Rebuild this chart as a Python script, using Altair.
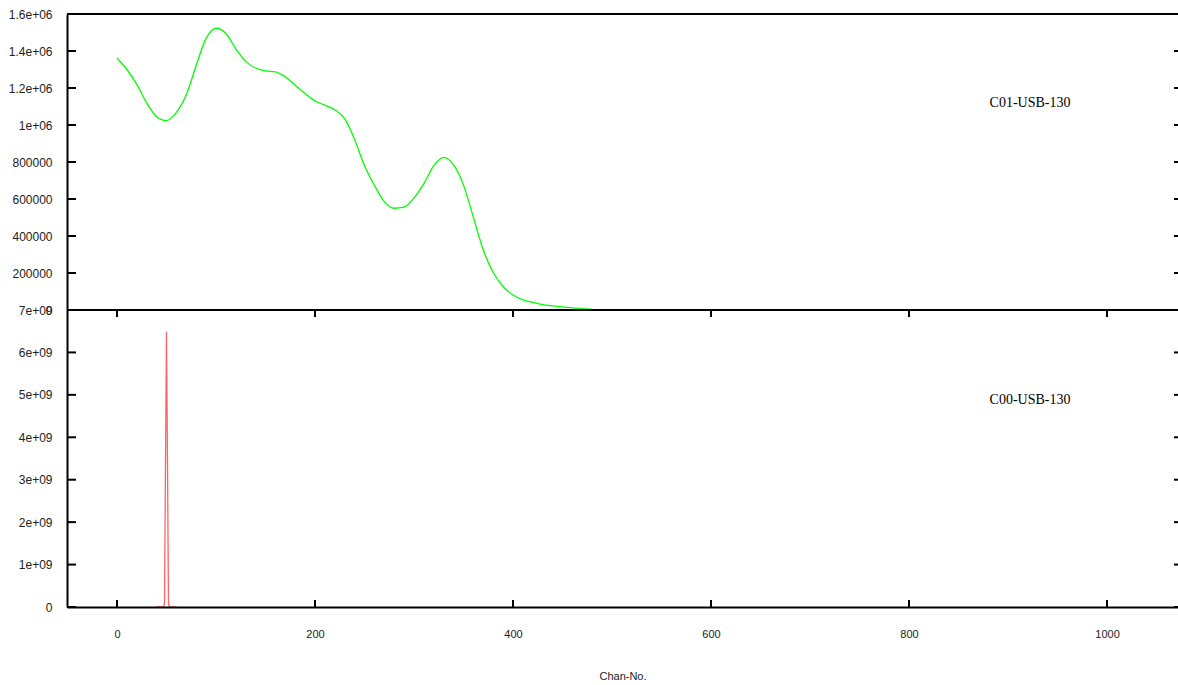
import altair as alt
import pandas as pd

# ---- data ----
chan_c01 = list(range(0, 481, 10))
counts_c01 = [1362000, 1300000, 1220000, 1119000, 1045000, 1024000, 1068000, 1163000, 1322000, 1468000,
              1523000, 1495000, 1412000, 1344000, 1308000, 1293000, 1287000, 1260000, 1215000, 1170000,
              1130000, 1107000, 1082000, 1034000, 922000, 780000, 674000, 586000, 550000, 556000,
              606000, 683000, 780000, 825000, 784000, 675000, 500000, 324000, 203000, 127000,
              81000, 55000, 41000, 29000, 22000, 17000, 12000, 7000, 4000]

chan_c00 = list(range(40, 61))
counts_c00 = [0, 0, 0, 0, 0, 0, 0, 0, 9.0e7, 3.43e9, 6.48e9, 3.43e9, 9.0e7,
              0, 0, 0, 0, 0, 0, 0, 0]

key_top = "C01-USB-130"
key_bottom = "C00-USB-130"

x_ticks = [0, 200, 400, 600, 800, 1000]
y_ticks_top = [0, 200000, 400000, 600000, 800000, 1000000, 1200000, 1400000, 1600000]
y_ticks_bottom = [0, 1e9, 2e9, 3e9, 4e9, 5e9, 6e9, 7e9]

# ---- layout ----
W, H = 1111, 593
TOP_H = 296
LBL_FONT = "Liberation Sans"
LBL_COLOR = "#222222"

df_top = pd.DataFrame({"chan": chan_c01, "counts": counts_c01})
df_bot = pd.DataFrame({"chan": chan_c00, "counts": counts_c00})
df_xt = pd.DataFrame({"chan": x_ticks})
df_yt_top = pd.DataFrame({"v": y_ticks_top})
df_yt_bot = pd.DataFrame({"v": y_ticks_bottom})
one = pd.DataFrame({"k": [0]})

x_scale = alt.Scale(domain=[-50.5, 1071.7], nice=False, zero=False)
x_axis = alt.Axis(values=x_ticks, title="Chan-No.", ticks=False, labelPadding=21,
                  titlePadding=31, domainColor="black", domainWidth=2, grid=False,
                  zindex=1, labelFont=LBL_FONT, labelFontSize=11, labelColor=LBL_COLOR,
                  titleFont=LBL_FONT, titleFontSize=11, titleFontWeight="normal",
                  titleColor=LBL_COLOR, labelFlush=False, format="d")

y_scale_top = alt.Scale(domain=[0, 1.6e6], range=[TOP_H, 0], nice=False, zero=True)
y_scale_bot = alt.Scale(domain=[0, 7e9], range=[H, TOP_H], nice=False, zero=True)

y_axis_top = alt.Axis(orient="left", values=y_ticks_top, title=None, ticks=False,
                      labelPadding=15, domainColor="black", domainWidth=2, grid=False,
                      labelFont=LBL_FONT, labelFontSize=12, labelColor=LBL_COLOR, zindex=1,
                      labelExpr="datum.value >= 1000000 ? replace(format(datum.value, '.2~e'), 'e+6', 'e+06') : format(datum.value, 'd')")
y_axis_bot = alt.Axis(orient="left", values=y_ticks_bottom, title=None, ticks=False,
                      labelPadding=15, domainColor="black", domainWidth=2, grid=False,
                      labelFont=LBL_FONT, labelFontSize=12, labelColor=LBL_COLOR, zindex=1,
                      labelExpr="datum.value == 0 ? '0' : replace(format(datum.value, '~e'), 'e+9', 'e+09')")

rule_style = dict(color="black", strokeWidth=2)

# ---- top panel ----
green = alt.Chart(df_top).mark_line(color="#00ff00", strokeWidth=1.3, interpolate="monotone").encode(
    x=alt.X("chan:Q", scale=x_scale, axis=x_axis),
    y=alt.Y("counts:Q", scale=y_scale_top, axis=y_axis_top),
)
yt_top_l = alt.Chart(df_yt_top).mark_rule(**rule_style).encode(
    y=alt.Y("v:Q", scale=y_scale_top, axis=None), x=alt.value(0), x2=alt.value(9))
yt_top_r = alt.Chart(df_yt_top).mark_rule(**rule_style).encode(
    y=alt.Y("v:Q", scale=y_scale_top, axis=None), x=alt.value(W - 4), x2=alt.value(W))
top_border = alt.Chart(one).mark_rule(**rule_style).encode(
    y=alt.value(0), x=alt.value(0), x2=alt.value(W))
mid_border = alt.Chart(one).mark_rule(**rule_style).encode(
    y=alt.value(TOP_H), x=alt.value(0), x2=alt.value(W))
txt_top = alt.Chart(pd.DataFrame({"label": [key_top]})).mark_text(
    font="Liberation Serif", fontSize=14, color="black", align="center", baseline="middle").encode(
    text="label:N", x=alt.value(963), y=alt.value(89))

# ---- bottom panel ----
red = alt.Chart(df_bot).mark_line(color="#ff6464", strokeWidth=1.3).encode(
    x=alt.X("chan:Q", scale=x_scale, axis=x_axis),
    y=alt.Y("counts:Q", scale=y_scale_bot, axis=y_axis_bot),
)
yt_bot_l = alt.Chart(df_yt_bot).mark_rule(**rule_style).encode(
    y=alt.Y("v:Q", scale=y_scale_bot, axis=None), x=alt.value(0), x2=alt.value(9))
yt_bot_r = alt.Chart(df_yt_bot).mark_rule(**rule_style).encode(
    y=alt.Y("v:Q", scale=y_scale_bot, axis=None), x=alt.value(W - 4), x2=alt.value(W))
xt_bottom = alt.Chart(df_xt).mark_rule(**rule_style).encode(
    x=alt.X("chan:Q", scale=x_scale, axis=x_axis), y=alt.value(H - 7), y2=alt.value(H))
xt_mid = alt.Chart(df_xt).mark_rule(**rule_style).encode(
    x=alt.X("chan:Q", scale=x_scale, axis=x_axis), y=alt.value(TOP_H), y2=alt.value(TOP_H + 7))
txt_bot = alt.Chart(pd.DataFrame({"label": [key_bottom]})).mark_text(
    font="Liberation Serif", fontSize=14, color="black", align="center", baseline="middle").encode(
    text="label:N", x=alt.value(963), y=alt.value(386))

chart = alt.layer(
    green, red,
    yt_top_l, yt_top_r, yt_bot_l, yt_bot_r,
    top_border, mid_border, xt_bottom, xt_mid,
    txt_top, txt_bot,
).resolve_scale(y="independent").properties(
    width=W, height=H,
    autosize=alt.AutoSizeParams(type="none"),
    padding={"left": 67, "top": 14, "right": 0, "bottom": 78},
    background="white",
).configure_view(stroke=None)

chart.save("out.html", embed_options={"renderer": "svg", "actions": False})
